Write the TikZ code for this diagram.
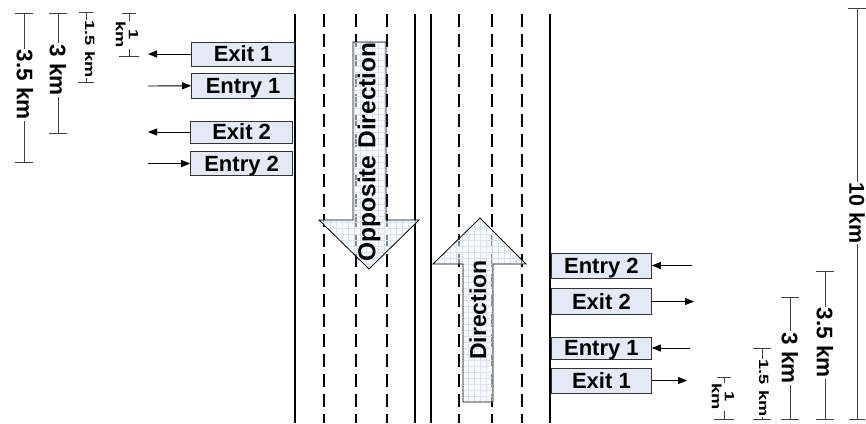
\documentclass[tikz,border=0pt]{standalone}
\usepackage{fontspec}
\setmainfont{Liberation Sans}
\newfontfamily\boxfont{Liberation Sans Bold}
\newfontfamily\bigfont{Liberation Sans Bold}
\newfontfamily\smallfont{Liberation Sans Bold}[FakeStretch=1.35]
\usetikzlibrary{arrows.meta}
\definecolor{boxblue}{HTML}{E3E9F5}
\definecolor{arrowfill}{HTML}{F4F6FB}
\definecolor{gridcol}{HTML}{DCE2EC}
\tikzset{
  roadline/.style={line width=2.2pt, black},
  laneline/.style={line width=1.8pt, black, dash pattern=on 13pt off 7pt},
  rampbox/.style={draw=black!80, line width=0.8pt, fill=boxblue, minimum width=103pt,
    minimum height=24pt, inner sep=0pt, text height=15.5pt, text depth=0pt,
    font=\boxfont\fontsize{22}{22}\selectfont},
  ramparrow/.style={line width=0.9pt, black, -{Triangle[length=9pt,width=7pt]}},
  dimline/.style={line width=1pt, black!75, {Bar[width=18pt]}-{Bar[width=18pt]}},
  dimlabel/.style={fill=white, inner sep=1pt, rotate=-90, font=\bigfont\fontsize{22.5}{22.5}\selectfont},
  smalldim/.style={fill=white, inner sep=1pt, rotate=-90, align=center, font=\smallfont\fontsize{13.5}{13}\selectfont},
  dirlabel/.style={rotate=90, inner sep=0pt, font=\bigfont\fontsize{23}{23}\selectfont}
}
\begin{document}
\begin{tikzpicture}[x=1pt,y=-1pt]
\useasboundingbox (0,0) rectangle (866,423);
% road edges
\foreach \xx in {295,415,431,550} \draw[roadline] (\xx,14) -- (\xx,423);
\foreach \xx in {324,356,387,459,492,522} \draw[laneline] (\xx,14) -- (\xx,423);
% big direction arrows
\def\opparrow{(353,42) -- (386,42) -- (386,220) -- (419,220) -- (369,269) -- (319,220) -- (353,220) -- cycle}
\def\dirarrow{(463,402) -- (493,402) -- (493,264) -- (526,264) -- (480,218) -- (433,264) -- (463,264) -- cycle}
\fill[arrowfill, fill opacity=0.55] \opparrow;
\fill[arrowfill, fill opacity=0.55] \dirarrow;
\begin{scope}
  \clip \opparrow;
  \foreach \i in {318,324,...,420} \draw[gridcol, line width=0.3pt] (\i,40) -- (\i,270);
  \foreach \j in {42,48,...,270} \draw[gridcol, line width=0.3pt] (318,\j) -- (420,\j);
\end{scope}
\begin{scope}
  \clip \dirarrow;
  \foreach \i in {432,438,...,528} \draw[gridcol, line width=0.3pt] (\i,216) -- (\i,404);
  \foreach \j in {216,222,...,404} \draw[gridcol, line width=0.3pt] (432,\j) -- (528,\j);
\end{scope}
\draw[black, line width=0.8pt] \opparrow;
\draw[black, line width=0.8pt] \dirarrow;
\node[dirlabel, font=\bigfont\fontsize{24.5}{24.5}\selectfont] (opp) at (369,152) {Opposite Direction};
\node[dirlabel] (dir) at (478,310) {Direction};
% left ramps
\node[rampbox, anchor=east] (lex1) at (295,54) {Exit 1};
\node[rampbox, anchor=east, minimum height=25pt] (len1) at (295,85.5) {Entry 1};
\node[rampbox, anchor=east, minimum height=22pt, minimum width=102pt] (lex2) at (293,132) {Exit 2};
\node[rampbox, anchor=east, minimum width=102pt] (len2) at (293,163.5) {Entry 2};
\coordinate (lex1e) at (148,54);
\coordinate (len1s) at (148,86);
\coordinate (lex2e) at (148,132);
\coordinate (len2s) at (148,163.5);
\draw[ramparrow] (lex1) -- (lex1e);
\draw[ramparrow] (len1s) -- (len1);
\draw[ramparrow] (lex2) -- (lex2e);
\draw[ramparrow] (len2s) -- (len2);
% right ramps
\node[rampbox, anchor=west, minimum width=100pt, minimum height=25pt] (ren2) at (551,265.5) {Entry 2};
\node[rampbox, anchor=west, minimum width=100pt, minimum height=26pt] (rex2) at (551,301.5) {Exit 2};
\node[rampbox, anchor=west, minimum width=100pt, minimum height=22pt] (ren1) at (551,348) {Entry 1};
\node[rampbox, anchor=west, minimum width=100pt, minimum height=25pt] (rex1) at (551,380.5) {Exit 1};
\coordinate (ren2s) at (692,265.5);
\coordinate (rex2e) at (694,301.5);
\coordinate (ren1s) at (690,348);
\coordinate (rex1e) at (687,380.5);
\draw[ramparrow] (ren2s) -- (ren2);
\draw[ramparrow] (rex2) -- (rex2e);
\draw[ramparrow] (ren1s) -- (ren1);
\draw[ramparrow] (rex1) -- (rex1e);
% left dimensions
\draw[dimline] (24,13) -- (24,163);
\node[dimlabel] (d35l) at (25,85) {3.5 km};
\draw[dimline] (58,13) -- (58,134);
\node[dimlabel] (d3l) at (58,70) {3 km};
\draw[dimline, {Bar[width=14pt]}-{Bar[width=16pt]}] (86,12) -- (86,83);
\node[smalldim] (d15l) at (90,49) {1.5 km};
\draw[dimline, {Bar[width=14pt]}-{Bar[width=20pt]}] (129,13) -- (129,57);
\node[smalldim] (d1l) at (127,35) {1\\km};
% right dimensions
\draw[dimline, {Bar[width=14pt]}-{Bar[width=20pt]}] (724,377) -- (724,420);
\node[smalldim] (d1r) at (723,397) {1\\km};
\draw[dimline, {Bar[width=18pt]}-{Bar[width=18pt]}] (762,348) -- (762,420);
\node[smalldim] (d15r) at (764,388) {1.5 km};
\draw[dimline] (790,297) -- (790,420);
\node[dimlabel] (d3r) at (790,358) {3 km};
\draw[dimline] (825,271) -- (825,420);
\node[dimlabel] (d35r) at (825,343) {3.5 km};
\draw[dimline, {Bar[width=18pt]}-{Bar[width=16pt]}] (857,8) -- (857,420);
\node[dimlabel, inner sep=0.5pt, font=\bigfont\fontsize{21.5}{21.5}\selectfont] (d10r) at (857,213) {10 km};
\end{tikzpicture}
\end{document}
